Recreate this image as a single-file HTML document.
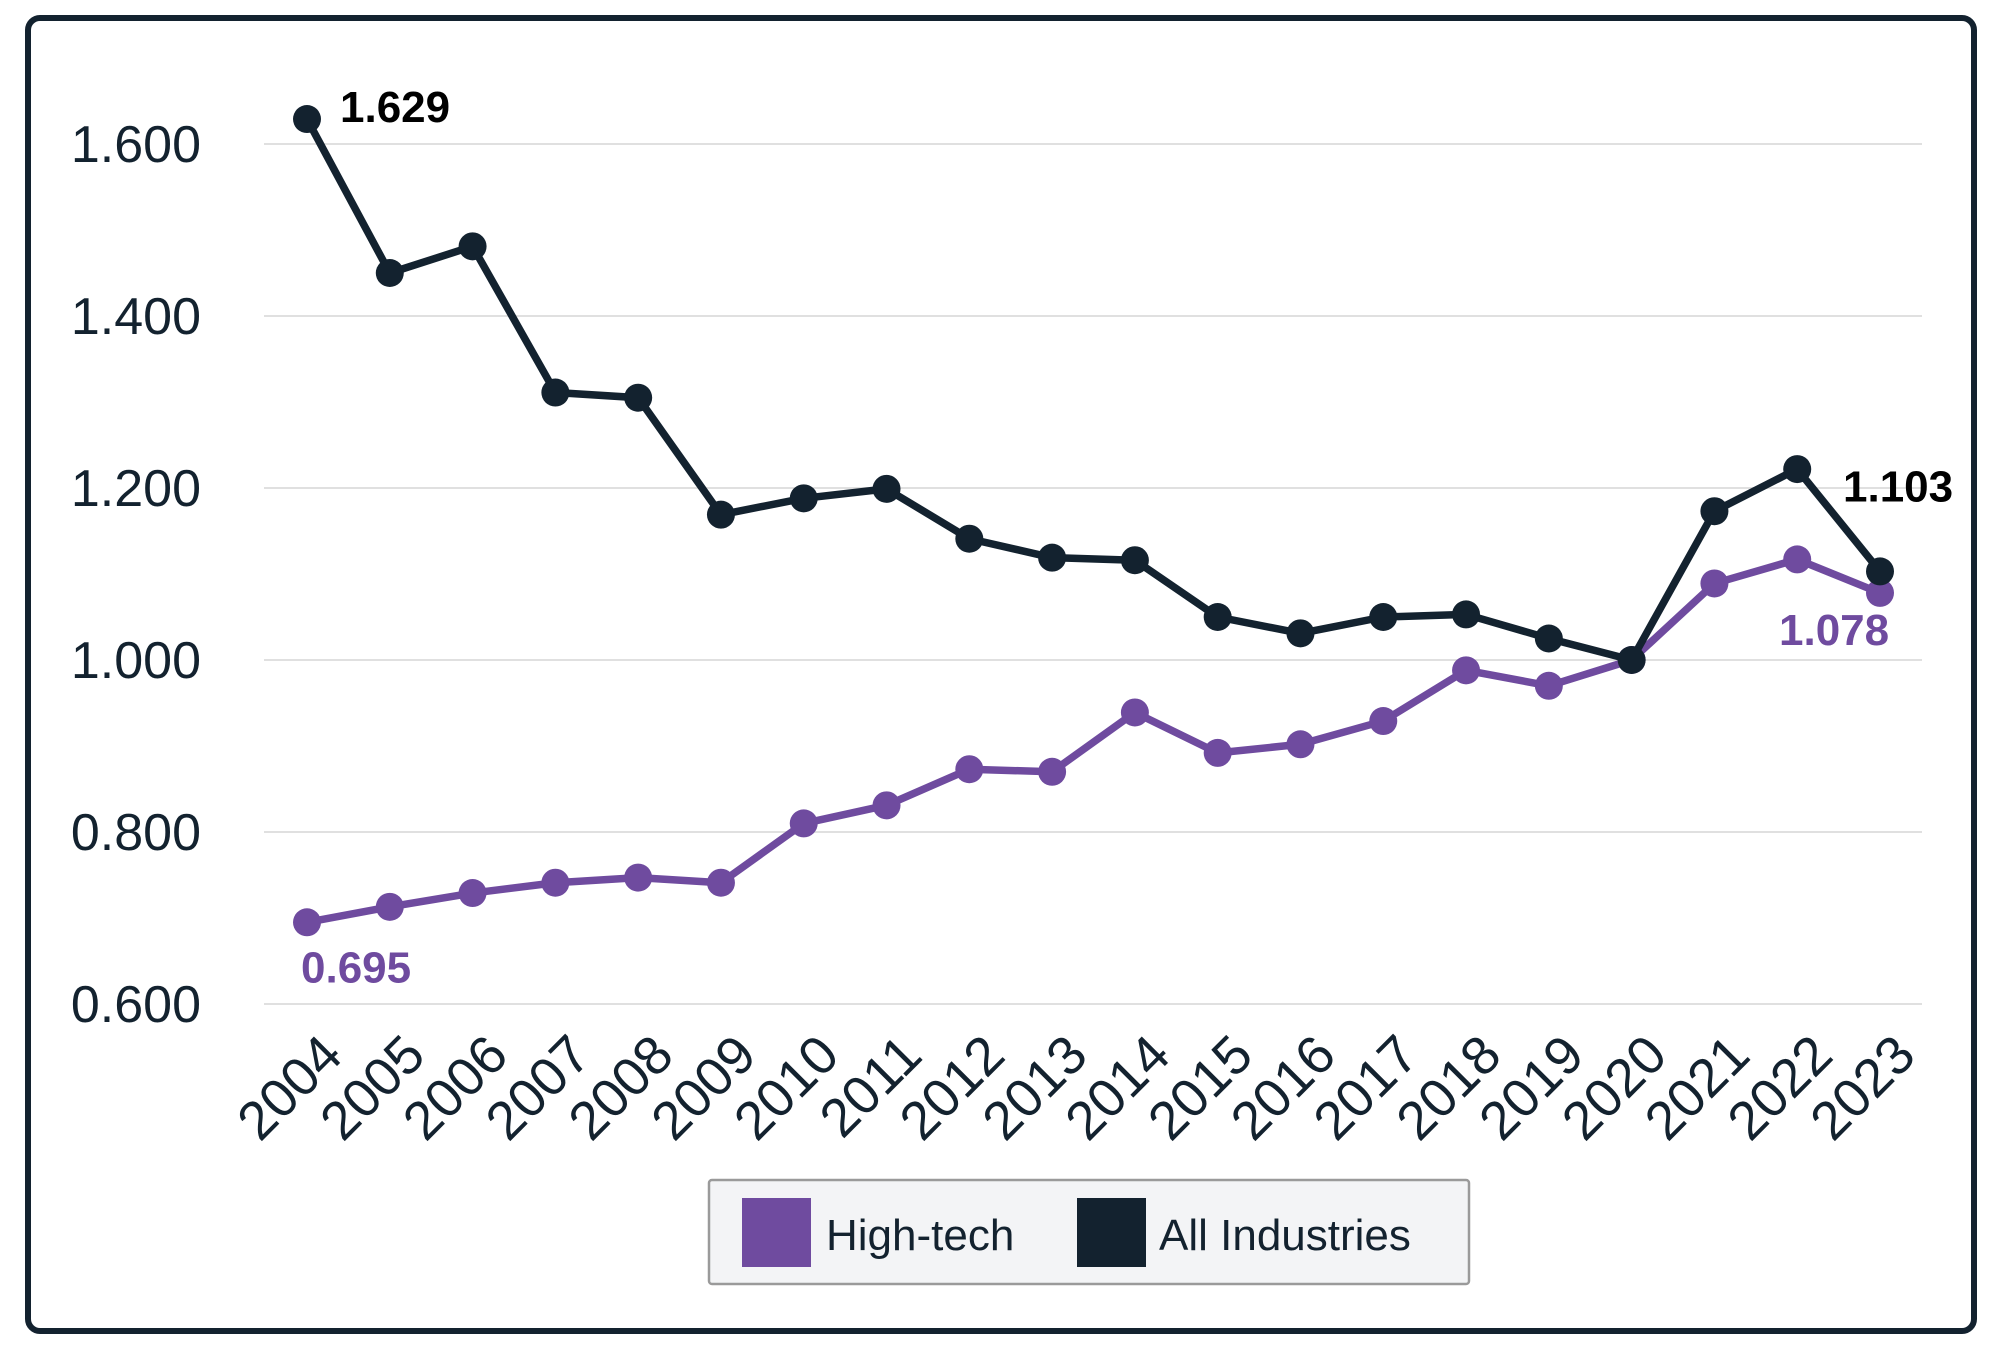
<!DOCTYPE html>
<html><head><meta charset="utf-8"><style>
html,body{margin:0;padding:0;background:#fff;}
svg{display:block;font-family:"Liberation Sans",sans-serif;}
</style></head><body>
<svg id="chart" width="2000" height="1362" viewBox="0 0 2000 1362">
<rect x="28" y="18" width="1946" height="1313" rx="12" fill="#fff" stroke="#13222f" stroke-width="6"/>
<g id="grid"></g>
<g id="ylabels"></g>
<g id="xlabels"></g>
<g id="series"></g>
<g id="annot"></g>
<g>
<rect x="709" y="1180" width="760" height="104" rx="3" fill="#f3f4f6" stroke="#9a9a9a" stroke-width="2.5"/>
<rect x="742" y="1198" width="69" height="69" fill="#6f4b9f"/>
<text x="826" y="1250" font-size="44" fill="#13222f">High-tech</text>
<rect x="1077" y="1198" width="69" height="69" fill="#13222f"/>
<text x="1159" y="1250" font-size="44" fill="#13222f">All Industries</text>
</g>
</svg>
<script>
const years = ["2004","2005","2006","2007","2008","2009","2010","2011","2012","2013","2014","2015","2016","2017","2018","2019","2020","2021","2022","2023"];
const allIndustries = [1.629,1.450,1.481,1.311,1.305,1.169,1.188,1.199,1.141,1.119,1.116,1.050,1.031,1.050,1.053,1.025,1.000,1.173,1.222,1.103];
const highTech = [0.695,0.713,0.729,0.741,0.747,0.741,0.810,0.831,0.873,0.870,0.939,0.892,0.902,0.929,0.988,0.970,1.000,1.089,1.117,1.078];
const yTicks = [0.6,0.8,1.0,1.2,1.4,1.6];
const yTickLabels = ["0.600","0.800","1.000","1.200","1.400","1.600"];

const NS = "http://www.w3.org/2000/svg";
const x = i => 307 + i * (1880 - 307) / (years.length - 1);
const y = v => 1004 - (v - 0.6) / 1.0 * 860;
function mk(tag, attrs, parent) {
  const e = document.createElementNS(NS, tag);
  for (const k in attrs) e.setAttribute(k, attrs[k]);
  parent.appendChild(e);
  return e;
}
const grid = document.getElementById('grid');
const yl = document.getElementById('ylabels');
yTicks.forEach((t, i) => {
  const l = mk('line', {x1: 264, x2: 1922, y1: y(t), y2: y(t), stroke: '#e0e0e0', 'stroke-width': 2}, grid);
  
  
  const tx = mk('text', {x: 201, y: y(t) + 18, 'text-anchor': 'end', 'font-size': 52, fill: '#13222f'}, yl);
  tx.textContent = yTickLabels[i];
  
  
});
const xl = document.getElementById('xlabels');
years.forEach((yr, i) => {
  const ax = x(i) + 38, ay = 1058;
  const tx = mk('text', {x: ax, y: ay, 'text-anchor': 'end', 'font-size': 54, fill: '#13222f', transform: `rotate(-45 ${ax} ${ay})`}, xl);
  tx.textContent = yr;
  
  
});
const ser = document.getElementById('series');
function drawSeries(vals, color, name) {
  const g = mk('g', {}, ser);
  
  
  const p = mk('polyline', {points: vals.map((v, i) => x(i) + ',' + y(v)).join(' '), fill: 'none', stroke: color, 'stroke-width': 7.5, 'stroke-linejoin': 'round'}, g);
  
  
  vals.forEach((v, i) => {
    const c = mk('circle', {cx: x(i), cy: y(v), r: 14, fill: color}, g);
    
    
  });
}
drawSeries(highTech, '#6f4b9f', 'high-tech');
drawSeries(allIndustries, '#13222f', 'all-industries');
const an = document.getElementById('annot');
function label(txt, lx, ly, color, name) {
  const t = mk('text', {x: lx, y: ly, 'font-size': 44, 'font-weight': 'bold', fill: color}, an);
  t.textContent = txt;
  
  
}
const n = years.length - 1;
label(allIndustries[0].toFixed(3), x(0) + 33, y(allIndustries[0]) + 3, '#000', 'all-industries-first-label');
label(allIndustries[n].toFixed(3), x(n) - 37, y(allIndustries[n]) - 70, '#000', 'all-industries-last-label');
label(highTech[0].toFixed(3), x(0) - 6, y(highTech[0]) + 60, '#6f4b9f', 'high-tech-first-label');
label(highTech[n].toFixed(3), x(n) - 101, y(highTech[n]) + 52, '#6f4b9f', 'high-tech-last-label');
</script>
</body></html>
